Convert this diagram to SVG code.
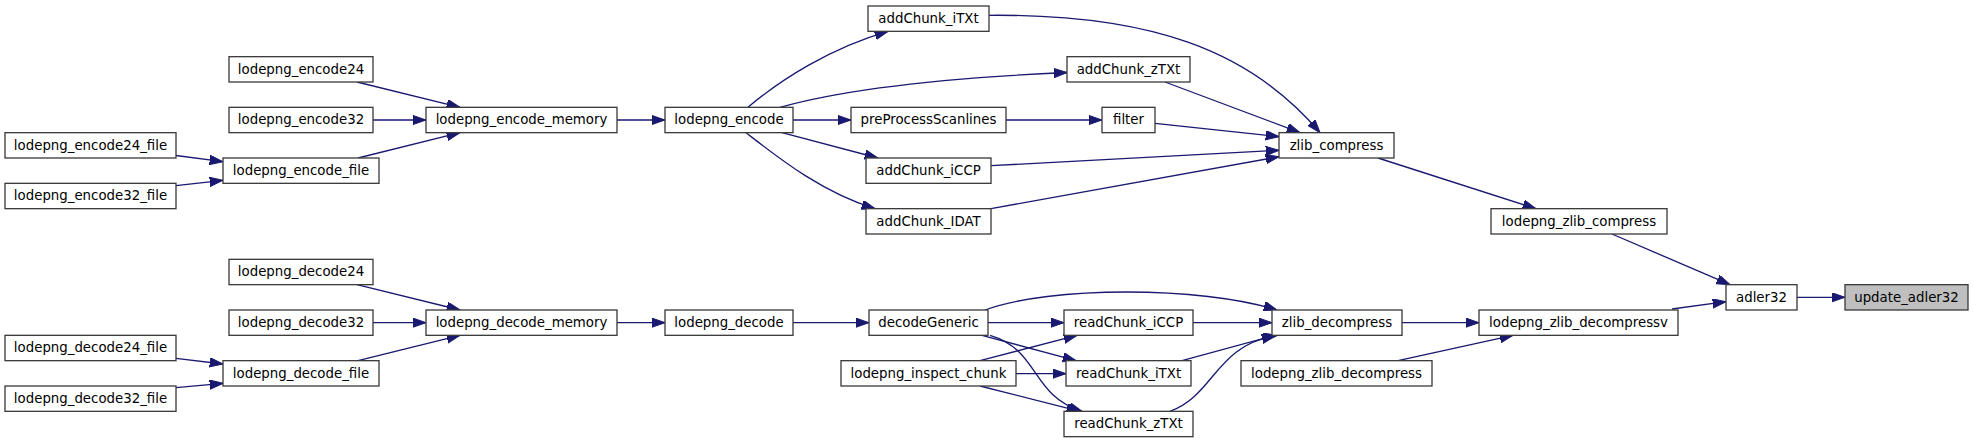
<svg xmlns="http://www.w3.org/2000/svg" width="1973" height="443" viewBox="0 0 1973 443">
<style>
.n rect{fill:#ffffff;stroke:#3c3c3c;stroke-width:1.33}
.n.hl rect{fill:#bfbfbf}
.n text{font-family:"DejaVu Sans","Liberation Sans",sans-serif;font-size:13.33px;fill:#000;text-anchor:middle}
#edges path{fill:none;stroke:#191970;stroke-width:1.33;marker-end:url(#ah)}
</style>
<defs>
<marker id="ah" markerUnits="userSpaceOnUse" markerWidth="14" markerHeight="10" refX="13.3" refY="4.67" orient="auto" viewBox="0 0 14 10">
<path d="M0,0 L13.3,4.67 L0,9.33 z" fill="#191970" stroke="#191970" stroke-width="1"/>
</marker>
</defs>
<rect width="1973" height="443" fill="#ffffff"/>
<g id="edges">
<path d="M357,82 L460,107.33"/>
<path d="M373,120 L426,120"/>
<path d="M358,158 L460,132.67"/>
<path d="M176,155.5 L223,161.7"/>
<path d="M176,185.7 L223,180.3"/>
<path d="M617,120 L665,120"/>
<path d="M748,107.33 C780,80 830,48 888,31.33"/>
<path d="M780,107.33 C820,96 900,80 1067,72.5"/>
<path d="M793,120 L851,120"/>
<path d="M782,132.67 L878,158"/>
<path d="M746,132.67 C775,155 820,192 875,208.67"/>
<path d="M1006,120 L1102,120"/>
<path d="M989,15.3 C1150,14 1250,50 1320,132.67"/>
<path d="M1165,82 L1300,132.67"/>
<path d="M1155,123.3 L1279,136.7"/>
<path d="M991,165.7 L1279,150.3"/>
<path d="M991,208.67 L1279,156.7"/>
<path d="M1378,158 L1536,208.67"/>
<path d="M1612,234 L1730,284.67"/>
<path d="M1672,309 L1726,301.7"/>
<path d="M1797,297.3 L1845,297.3"/>
<path d="M357,284.67 L460,310"/>
<path d="M373,322.67 L426,322.67"/>
<path d="M358,360.67 L460,335.33"/>
<path d="M176,358.3 L223,364"/>
<path d="M176,387.7 L223,383.3"/>
<path d="M617,322.67 L665,322.67"/>
<path d="M793,322.67 L869,322.67"/>
<path d="M985,310 C1050,286 1200,286 1277,310"/>
<path d="M988,322.67 L1064,322.67"/>
<path d="M982,335.33 L1076,360.67"/>
<path d="M990,335.33 C1040,350 1030,395 1082,411.33"/>
<path d="M980,360.67 L1077,335.33"/>
<path d="M1016,373.67 L1066,373.67"/>
<path d="M980,386 L1080,411.33"/>
<path d="M1193,322.67 L1272,322.67"/>
<path d="M1182,360.67 L1275,335.33"/>
<path d="M1170,411.33 C1215,395 1215,345 1277,335.5"/>
<path d="M1402,322.67 L1479,322.67"/>
<path d="M1398,360.67 L1513,335.33"/>
</g>
<g id="lodepng_encode24" class="n"><rect x="229" y="56.67" width="144" height="25.33"/><text x="301" y="73.7">lodepng_encode24</text></g>
<g id="lodepng_encode32" class="n"><rect x="229" y="107.33" width="144" height="25.33"/><text x="301" y="124.3">lodepng_encode32</text></g>
<g id="lodepng_encode24_file" class="n"><rect x="5" y="132.67" width="171" height="25.33"/><text x="90.5" y="149.7">lodepng_encode24_file</text></g>
<g id="lodepng_encode32_file" class="n"><rect x="5" y="183.33" width="171" height="25.33"/><text x="90.5" y="200.3">lodepng_encode32_file</text></g>
<g id="lodepng_encode_file" class="n"><rect x="223" y="158" width="156" height="25.33"/><text x="301" y="175">lodepng_encode_file</text></g>
<g id="lodepng_encode_memory" class="n"><rect x="426" y="107.33" width="191" height="25.33"/><text x="521.5" y="124.3">lodepng_encode_memory</text></g>
<g id="lodepng_encode" class="n"><rect x="665" y="107.33" width="128" height="25.33"/><text x="729" y="124.3">lodepng_encode</text></g>
<g id="addChunk_iTXt" class="n"><rect x="868" y="6" width="121" height="25.33"/><text x="928.5" y="23">addChunk_iTXt</text></g>
<g id="addChunk_zTXt" class="n"><rect x="1067" y="56.67" width="123" height="25.33"/><text x="1128.5" y="73.7">addChunk_zTXt</text></g>
<g id="preProcessScanlines" class="n"><rect x="851" y="107.33" width="155" height="25.33"/><text x="928.5" y="124.3">preProcessScanlines</text></g>
<g id="filter" class="n"><rect x="1102" y="107.33" width="53" height="25.33"/><text x="1128.5" y="124.3">filter</text></g>
<g id="addChunk_iCCP" class="n"><rect x="866" y="158" width="125" height="25.33"/><text x="928.5" y="175">addChunk_iCCP</text></g>
<g id="addChunk_IDAT" class="n"><rect x="866" y="208.67" width="125" height="25.33"/><text x="928.5" y="225.7">addChunk_IDAT</text></g>
<g id="zlib_compress" class="n"><rect x="1279" y="132.67" width="115" height="25.33"/><text x="1336.5" y="149.7">zlib_compress</text></g>
<g id="lodepng_zlib_compress" class="n"><rect x="1491" y="208.67" width="176" height="25.33"/><text x="1579" y="225.7">lodepng_zlib_compress</text></g>
<g id="adler32" class="n"><rect x="1726" y="284.67" width="71" height="25.33"/><text x="1761.5" y="301.7">adler32</text></g>
<g id="update_adler32" class="n hl"><rect x="1845" y="284.67" width="123" height="25.33"/><text x="1906.5" y="301.7">update_adler32</text></g>
<g id="lodepng_decode24" class="n"><rect x="229" y="259.33" width="144" height="25.33"/><text x="301" y="276.3">lodepng_decode24</text></g>
<g id="lodepng_decode32" class="n"><rect x="229" y="310" width="144" height="25.33"/><text x="301" y="327">lodepng_decode32</text></g>
<g id="lodepng_decode24_file" class="n"><rect x="5" y="335.33" width="171" height="25.33"/><text x="90.5" y="352.3">lodepng_decode24_file</text></g>
<g id="lodepng_decode32_file" class="n"><rect x="5" y="386" width="171" height="25.33"/><text x="90.5" y="403">lodepng_decode32_file</text></g>
<g id="lodepng_decode_file" class="n"><rect x="223" y="360.67" width="156" height="25.33"/><text x="301" y="377.7">lodepng_decode_file</text></g>
<g id="lodepng_decode_memory" class="n"><rect x="426" y="310" width="191" height="25.33"/><text x="521.5" y="327">lodepng_decode_memory</text></g>
<g id="lodepng_decode" class="n"><rect x="665" y="310" width="128" height="25.33"/><text x="729" y="327">lodepng_decode</text></g>
<g id="decodeGeneric" class="n"><rect x="869" y="310" width="119" height="25.33"/><text x="928.5" y="327">decodeGeneric</text></g>
<g id="lodepng_inspect_chunk" class="n"><rect x="841" y="360.67" width="175" height="25.33"/><text x="928.5" y="377.7">lodepng_inspect_chunk</text></g>
<g id="readChunk_iCCP" class="n"><rect x="1064" y="310" width="129" height="25.33"/><text x="1128.5" y="327">readChunk_iCCP</text></g>
<g id="readChunk_iTXt" class="n"><rect x="1066" y="360.67" width="125" height="25.33"/><text x="1128.5" y="377.7">readChunk_iTXt</text></g>
<g id="readChunk_zTXt" class="n"><rect x="1064" y="411.33" width="129" height="25.33"/><text x="1128.5" y="428.3">readChunk_zTXt</text></g>
<g id="zlib_decompress" class="n"><rect x="1272" y="310" width="130" height="25.33"/><text x="1337" y="327">zlib_decompress</text></g>
<g id="lodepng_zlib_decompress" class="n"><rect x="1241" y="360.67" width="191" height="25.33"/><text x="1336.5" y="377.7">lodepng_zlib_decompress</text></g>
<g id="lodepng_zlib_decompressv" class="n"><rect x="1479" y="310" width="199" height="25.33"/><text x="1578.5" y="327">lodepng_zlib_decompressv</text></g>
</svg>
